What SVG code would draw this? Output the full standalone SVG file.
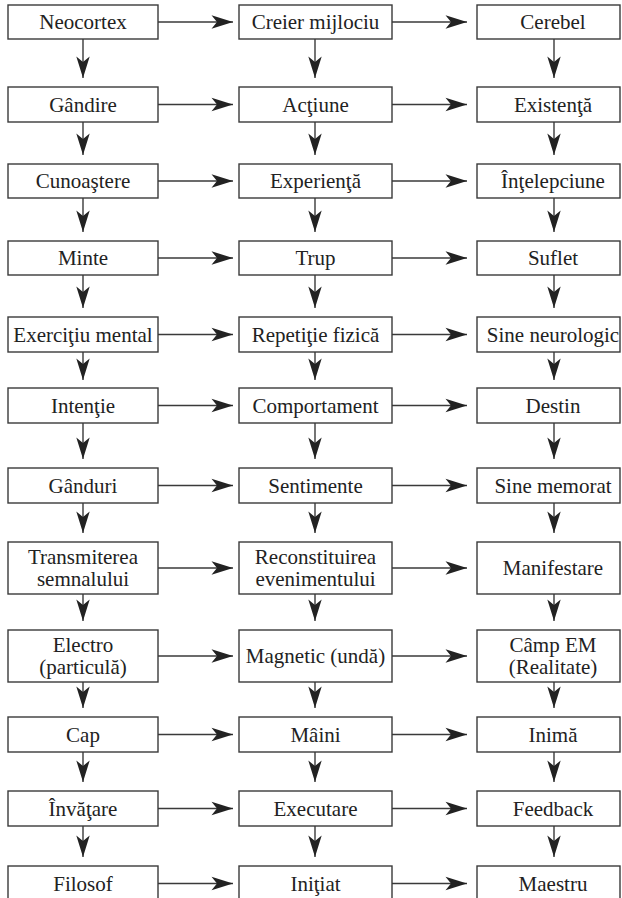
<svg xmlns="http://www.w3.org/2000/svg" width="622" height="898" viewBox="0 0 622 898">
  <style>
    .box { fill: #ffffff; stroke: #3a3a3a; stroke-width: 1.4; }
    .lbl { font-family: "Liberation Serif", "DejaVu Serif", serif; font-size: 21px; fill: #222222; text-anchor: middle; }
    .con { stroke: #3a3a3a; stroke-width: 1.4; fill: none; marker-end: url(#head); }
  </style>
  <defs>
    <marker id="head" markerUnits="userSpaceOnUse" markerWidth="24" markerHeight="16" refX="22" refY="7" orient="auto" viewBox="0 0 24 14">
      <path d="M22,7 L0.5,0.3 L6,7 L0.5,13.7 Z" fill="#222222"/>
    </marker>
  </defs>
  <rect width="622" height="898" fill="#ffffff"/>

  <!-- connectors -->
  <g id="connectors">
    <!-- horizontal: column 1 -> 2 -->
    <path class="con" d="M158,22 H233"/>
    <path class="con" d="M158,104.5 H233"/>
    <path class="con" d="M158,181 H233"/>
    <path class="con" d="M158,258 H233"/>
    <path class="con" d="M158,334.5 H233"/>
    <path class="con" d="M158,405.5 H233"/>
    <path class="con" d="M158,485.5 H233"/>
    <path class="con" d="M158,568 H233"/>
    <path class="con" d="M158,656 H233"/>
    <path class="con" d="M158,734.5 H233"/>
    <path class="con" d="M158,808.5 H233"/>
    <path class="con" d="M158,883.5 H233"/>
    <!-- horizontal: column 2 -> 3 -->
    <path class="con" d="M392,22 H467"/>
    <path class="con" d="M392,104.5 H467"/>
    <path class="con" d="M392,181 H467"/>
    <path class="con" d="M392,258 H467"/>
    <path class="con" d="M392,334.5 H467"/>
    <path class="con" d="M392,405.5 H467"/>
    <path class="con" d="M392,485.5 H467"/>
    <path class="con" d="M392,568 H467"/>
    <path class="con" d="M392,656 H467"/>
    <path class="con" d="M392,734.5 H467"/>
    <path class="con" d="M392,808.5 H467"/>
    <path class="con" d="M392,883.5 H467"/>
    <!-- vertical: column 1 -->
    <path class="con" d="M83,39 V78"/>
    <path class="con" d="M83,122 V155"/>
    <path class="con" d="M83,198 V232"/>
    <path class="con" d="M83,275 V308"/>
    <path class="con" d="M83,352 V380"/>
    <path class="con" d="M83,423 V459"/>
    <path class="con" d="M83,503 V533"/>
    <path class="con" d="M83,594 V621"/>
    <path class="con" d="M83,682 V708"/>
    <path class="con" d="M83,752 V782"/>
    <path class="con" d="M83,826 V857"/>
    <!-- vertical: column 2 -->
    <path class="con" d="M315,39 V78"/>
    <path class="con" d="M315,122 V155"/>
    <path class="con" d="M315,198 V232"/>
    <path class="con" d="M315,275 V308"/>
    <path class="con" d="M315,352 V380"/>
    <path class="con" d="M315,423 V459"/>
    <path class="con" d="M315,503 V533"/>
    <path class="con" d="M315,594 V621"/>
    <path class="con" d="M315,682 V708"/>
    <path class="con" d="M315,752 V782"/>
    <path class="con" d="M315,826 V857"/>
    <!-- vertical: column 3 -->
    <path class="con" d="M554,39 V78"/>
    <path class="con" d="M554,122 V155"/>
    <path class="con" d="M554,198 V232"/>
    <path class="con" d="M554,275 V308"/>
    <path class="con" d="M554,352 V380"/>
    <path class="con" d="M554,423 V459"/>
    <path class="con" d="M554,503 V533"/>
    <path class="con" d="M554,594 V621"/>
    <path class="con" d="M554,682 V708"/>
    <path class="con" d="M554,752 V782"/>
    <path class="con" d="M554,826 V857"/>
  </g>

  <!-- column 1 -->
  <g id="neocortex"><rect class="box" x="8" y="5" width="150" height="34"/><text class="lbl" x="83" y="29">Neocortex</text></g>
  <g id="gandire"><rect class="box" x="8" y="87" width="150" height="35"/><text class="lbl" x="83" y="111.5">Gândire</text></g>
  <g id="cunoastere"><rect class="box" x="8" y="164" width="150" height="34"/><text class="lbl" x="83" y="188">Cunoaştere</text></g>
  <g id="minte"><rect class="box" x="8" y="241" width="150" height="34"/><text class="lbl" x="83" y="265">Minte</text></g>
  <g id="exercitiu-mental"><rect class="box" x="8" y="317" width="150" height="35"/><text class="lbl" x="83" y="341.5">Exerciţiu mental</text></g>
  <g id="intentie"><rect class="box" x="8" y="388" width="150" height="35"/><text class="lbl" x="83" y="412.5">Intenţie</text></g>
  <g id="ganduri"><rect class="box" x="8" y="468" width="150" height="35"/><text class="lbl" x="83" y="492.5">Gânduri</text></g>
  <g id="transmiterea"><rect class="box" x="8" y="542" width="150" height="52"/><text class="lbl" x="83" y="564">Transmiterea</text><text class="lbl" x="83" y="586">semnalului</text></g>
  <g id="electro"><rect class="box" x="8" y="630" width="150" height="52"/><text class="lbl" x="83" y="652">Electro</text><text class="lbl" x="83" y="674">(particulă)</text></g>
  <g id="cap"><rect class="box" x="8" y="717" width="150" height="35"/><text class="lbl" x="83" y="741.5">Cap</text></g>
  <g id="invatare"><rect class="box" x="8" y="791" width="150" height="35"/><text class="lbl" x="83" y="815.5">Învăţare</text></g>
  <g id="filosof"><rect class="box" x="8" y="866" width="150" height="36"/><text class="lbl" x="83" y="890.5">Filosof</text></g>

  <!-- column 2 -->
  <g id="creier-mijlociu"><rect class="box" x="239" y="5" width="153" height="34"/><text class="lbl" x="315.5" y="29">Creier mijlociu</text></g>
  <g id="actiune"><rect class="box" x="239" y="87" width="153" height="35"/><text class="lbl" x="315.5" y="111.5">Acţiune</text></g>
  <g id="experienta"><rect class="box" x="239" y="164" width="153" height="34"/><text class="lbl" x="315.5" y="188">Experienţă</text></g>
  <g id="trup"><rect class="box" x="239" y="241" width="153" height="34"/><text class="lbl" x="315.5" y="265">Trup</text></g>
  <g id="repetitie-fizica"><rect class="box" x="239" y="317" width="153" height="35"/><text class="lbl" x="315.5" y="341.5">Repetiţie fizică</text></g>
  <g id="comportament"><rect class="box" x="239" y="388" width="153" height="35"/><text class="lbl" x="315.5" y="412.5">Comportament</text></g>
  <g id="sentimente"><rect class="box" x="239" y="468" width="153" height="35"/><text class="lbl" x="315.5" y="492.5">Sentimente</text></g>
  <g id="reconstituirea"><rect class="box" x="239" y="542" width="153" height="52"/><text class="lbl" x="315.5" y="564">Reconstituirea</text><text class="lbl" x="315.5" y="586">evenimentului</text></g>
  <g id="magnetic"><rect class="box" x="239" y="630" width="153" height="52"/><text class="lbl" x="315.5" y="663">Magnetic (undă)</text></g>
  <g id="maini"><rect class="box" x="239" y="717" width="153" height="35"/><text class="lbl" x="315.5" y="741.5">Mâini</text></g>
  <g id="executare"><rect class="box" x="239" y="791" width="153" height="35"/><text class="lbl" x="315.5" y="815.5">Executare</text></g>
  <g id="initiat"><rect class="box" x="239" y="866" width="153" height="36"/><text class="lbl" x="315.5" y="890.5">Iniţiat</text></g>

  <!-- column 3 -->
  <g id="cerebel"><rect class="box" x="477" y="5" width="143" height="34"/><text class="lbl" x="553" y="29">Cerebel</text></g>
  <g id="existenta"><rect class="box" x="477" y="87" width="143" height="35"/><text class="lbl" x="553" y="111.5">Existenţă</text></g>
  <g id="intelepciune"><rect class="box" x="477" y="164" width="143" height="34"/><text class="lbl" x="553" y="188">Înţelepciune</text></g>
  <g id="suflet"><rect class="box" x="477" y="241" width="143" height="34"/><text class="lbl" x="553" y="265">Suflet</text></g>
  <g id="sine-neurologic"><rect class="box" x="477" y="317" width="143" height="35"/><text class="lbl" x="553" y="341.5">Sine neurologic</text></g>
  <g id="destin"><rect class="box" x="477" y="388" width="143" height="35"/><text class="lbl" x="553" y="412.5">Destin</text></g>
  <g id="sine-memorat"><rect class="box" x="477" y="468" width="143" height="35"/><text class="lbl" x="553" y="492.5">Sine memorat</text></g>
  <g id="manifestare"><rect class="box" x="477" y="542" width="143" height="52"/><text class="lbl" x="553" y="575">Manifestare</text></g>
  <g id="camp-em"><rect class="box" x="477" y="630" width="143" height="52"/><text class="lbl" x="553" y="652">Câmp EM</text><text class="lbl" x="553" y="674">(Realitate)</text></g>
  <g id="inima"><rect class="box" x="477" y="717" width="143" height="35"/><text class="lbl" x="553" y="741.5">Inimă</text></g>
  <g id="feedback"><rect class="box" x="477" y="791" width="143" height="35"/><text class="lbl" x="553" y="815.5">Feedback</text></g>
  <g id="maestru"><rect class="box" x="477" y="866" width="143" height="36"/><text class="lbl" x="553" y="890.5">Maestru</text></g>
</svg>
